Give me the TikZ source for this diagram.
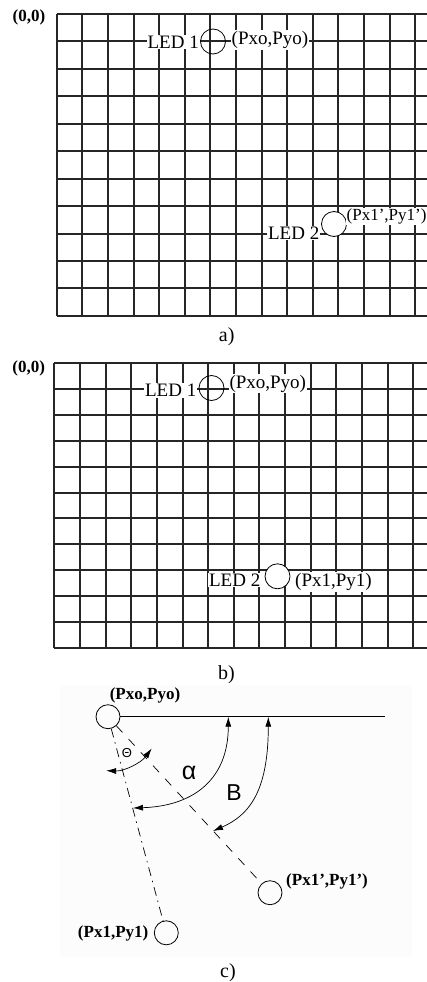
\documentclass[tikz,border=0pt]{standalone}
\usepackage{fontspec}
\setmainfont{Liberation Serif}
\newfontfamily\greeksans{Liberation Sans}
\usetikzlibrary{arrows.meta}

\begin{document}
\begin{tikzpicture}[x=1pt, y=-1pt,
  gridline/.style={line width=1.8pt, black!85},
  led/.style={draw, circle, minimum size=25pt, inner sep=0pt, line width=0.8pt},
  ledtext/.style={fill=white, inner sep=1pt, font=\fontsize{19}{22}\selectfont},
  origin/.style={inner sep=0pt, font=\bfseries\fontsize{17}{20}\selectfont},
  coordtext/.style={inner sep=1pt, font=\bfseries\fontsize{17}{20}\selectfont},
  caption/.style={inner sep=0pt, font=\fontsize{20}{24}\selectfont},
  angmark/.style={line width=0.7pt, {Latex[length=10pt,width=6pt]}-{Latex[length=10pt,width=6pt]}}]
\useasboundingbox (0,0) rectangle (427,982);

% a) grid, LED 2 seen at (Px1',Py1')
\foreach \i in {0,...,14}{
  \pgfmathsetmacro\gx{round(56.7+\i*25.6)}
  \draw[gridline] (\gx, 14) -- (\gx, 316);}
\foreach \j in {0,...,11}{
  \pgfmathsetmacro\gy{round(14+\j*27.45)}
  \draw[gridline] (57, \gy) -- (427, \gy);}
\node[origin] (oa) at (29,17) {(0,0)};
\node[led] (ledAa) at (213,41.5) {};
\node[ledtext, anchor=east] (ledAatxt) at (200,42) {LED 1};
\node[ledtext, anchor=west] (ledAapos) at (230.5,40) {(Pxo,Pyo)};
\node[led, fill=white] (ledBa) at (334,224) {};
\node[ledtext, anchor=east] (ledBatxt) at (320.5,233) {LED 2};
\node[ledtext, anchor=west, font=\fontsize{17}{20}\selectfont] (ledBapos) at (345.5,216.5) {(Px1',Py1')};
\node[caption] (capa) at (226.7,336.7) {a)};

% b) grid, LED 2 at (Px1,Py1)
\foreach \i in {0,...,14}{
  \pgfmathsetmacro\gx{round(54.3+\i*25.64)}
  \draw[gridline] (\gx, 363) -- (\gx, 648);}
\foreach \j in {0,...,11}{
  \pgfmathsetmacro\gy{round(362.7+\j*25.96)}
  \draw[gridline] (54, \gy) -- (427, \gy);}
\node[origin] (ob) at (28.7,368.3) {(0,0)};
\node[led] (ledAb) at (211.5,388) {};
\node[ledtext, anchor=east] (ledAbtxt) at (197.5,390.5) {LED 1};
\node[ledtext, anchor=west] (ledAbpos) at (228.3,383.5) {(Pxo,Pyo)};
\node[led, fill=white] (ledBb) at (277.5,576.3) {};
\node[ledtext, anchor=east] (ledBbtxt) at (261.5,580) {LED 2};
\node[ledtext, anchor=west] (ledBbpos) at (294,582) {(Px1,Py1)};
\node[caption] (capb) at (226.5,674.5) {b)};

% c) angles
\fill[black!1] (60,685) rectangle (412,957);
\node[led, minimum size=24pt] (p0) at (108,716.7) {};
\node[led, minimum size=24pt] (p1s) at (270,892.7) {};
\node[led, minimum size=24pt] (p1) at (166.3,932.8) {};
\coordinate (hend) at (385,716.7);
\draw[line width=0.8pt] (p0) -- (hend);
\draw[line width=0.7pt, dash pattern=on 9pt off 9pt] (p0) -- (p1s);
\draw[line width=0.7pt, dash pattern=on 9pt off 5pt on 1.5pt off 5pt] (p0) -- (p1);
\node[coordtext] (p0txt) at (145,695) {(Pxo,Pyo)};
\node[coordtext, anchor=west] (p1stxt) at (285,881.7) {(Px1',Py1')};
\node[coordtext, anchor=east] (p1txt) at (149.5,933.3) {(Px1,Py1)};
\draw[angmark] (228.3,716.7) .. controls (228.3,778) and (195,806) .. (133,808);
\draw[angmark] (268.3,716.7) .. controls (268.3,790) and (250,815) .. (213,831);
\draw[angmark] (p0.center) ++(92:54) arc[start angle=92, end angle=36, radius=54];
\node[font=\greeksans\fontsize{13}{15}\selectfont] (theta) at (127,753) {Θ};
\node[font=\greeksans\fontsize{25}{28}\selectfont] (alpha) at (189,772.5) {α};
\node[font=\greeksans\fontsize{23}{26}\selectfont] (beta) at (234,793) {B};
\node[caption] (capc) at (228,972.5) {c)};
\end{tikzpicture}
\end{document}
